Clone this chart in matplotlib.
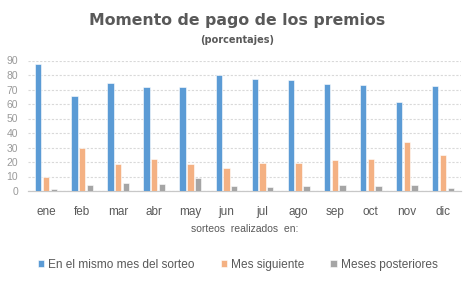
import numpy as np
import matplotlib.pyplot as plt

# Data (porcentajes)
meses = ["ene", "feb", "mar", "abr", "may", "jun", "jul", "ago", "sep", "oct", "nov", "dic"]
mismo_mes = [87.5, 65.6, 74.6, 71.8, 71.8, 80.1, 77.1, 76.4, 73.9, 73.2, 61.5, 72.5]
mes_siguiente = [9.7, 29.5, 18.4, 22.1, 18.4, 15.9, 19.1, 19.1, 21.2, 22.1, 33.6, 24.6]
meses_posteriores = [1.4, 4.1, 5.5, 4.8, 9.0, 3.5, 2.8, 3.5, 4.1, 3.5, 4.1, 2.1]

series = [
    ("En el mismo mes del sorteo", mismo_mes, "#5B9BD5"),
    ("Mes siguiente", mes_siguiente, "#F4B183"),
    ("Meses posteriores", meses_posteriores, "#A5A5A5"),
]

sans = ["Liberation Sans", "DejaVu Sans"]

fig = plt.figure(figsize=(4.75, 2.85), dpi=100)
ax = fig.add_axes([28 / 475, 94 / 285, 433 / 475, 130.5 / 285])

x = np.arange(len(meses))
width = 0.175
offset = 0.215
for i, (name, vals, color) in enumerate(series):
    ax.bar(x + (i - 1) * offset, vals, width, color=color, label=name,
           edgecolor="white", linewidth=0.4, zorder=3)

ax.set_xlim(-0.5, len(meses) - 0.5)
ax.set_ylim(0, 90)
ax.set_yticks(range(0, 91, 10))
ax.set_xticks(x)
ax.set_xticklabels(meses, family=sans, fontsize=8.5, color="#595959")
for lbl in ax.get_yticklabels():
    lbl.set_family(sans)
    lbl.set_fontsize(7.5)
    lbl.set_color("#9a9a9a")
ax.tick_params(axis="both", length=0)
ax.tick_params(axis="x", pad=11)
ax.tick_params(axis="y", pad=7)

ax.grid(axis="y", color="#d9d9d9", linestyle=(0, (2, 1.5)), linewidth=0.8, zorder=0)
for s in ["top", "right", "left"]:
    ax.spines[s].set_visible(False)
ax.spines["bottom"].set_color("#c8c8c8")
ax.spines["bottom"].set_linewidth(0.9)

ax.set_xlabel("sorteos  realizados  en:", family=sans, fontsize=7.5, color="#595959", labelpad=4)

fig.text(0.5, 1 - 21 / 285, "Momento de pago de los premios", ha="center", va="center",
         fontsize=11.3, fontweight="bold", color="#595959")
fig.text(0.5, 1 - 40 / 285, "(porcentajes)", ha="center", va="center",
         fontsize=7, fontweight="bold", color="#595959")

leg = fig.legend(loc="center", bbox_to_anchor=(0.5, 1 - 265 / 285), ncol=3, frameon=False,
                 prop={"family": sans, "size": 8.6}, handlelength=0.55, handleheight=0.55,
                 handletextpad=0.3, columnspacing=2.2)
for t in leg.get_texts():
    t.set_color("#595959")

fig.savefig("out.png", dpi=100)
